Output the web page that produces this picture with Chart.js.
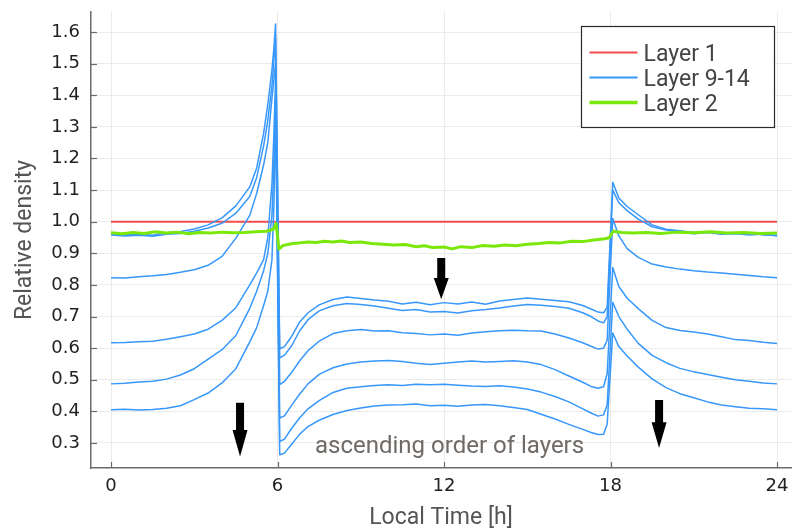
<!DOCTYPE html>
<html><head><meta charset="utf-8">
<script src="https://cdn.jsdelivr.net/npm/chart.js@4.4.0/dist/chart.umd.min.js"></script>
<style>
html,body{margin:0;padding:0;background:#fff;overflow:hidden;width:792px;height:532px}
#wrap{position:absolute;left:0;top:0;width:800px;height:532px}
</style>
</head><body><div id="wrap"><canvas id="c" width="800" height="532"></canvas></div>
<script>
// ---------- data ----------
const xTickValues = [0, 6, 12, 18, 24];
const yTickValues = [0.3,0.4,0.5,0.6,0.7,0.8,0.9,1.0,1.1,1.2,1.3,1.4,1.5,1.6];

const hours = [
 0,0.5,1,1.5,2,2.5,3,3.5,4,4.5,
 5,5.25,5.5,5.65,5.8,5.87,5.93,6.08,6.25,6.5,
 6.8,7.1,7.5,8,8.5,9,9.5,10,10.5,11,
 11.5,12,12.5,13,13.5,14,14.5,15,15.5,16,
 16.5,17,17.3,17.55,17.75,17.88,18.08,18.3,18.6,19,
 19.5,20,20.5,21,21.5,22,22.5,23,23.5,24];

const layer9 = [
 0.962,0.958,0.961,0.957,0.965,0.969,0.977,0.990,1.012,1.050,
 1.110,1.170,1.280,1.370,1.480,1.550,1.625,0.598,0.605,0.636,
 0.683,0.712,0.737,0.754,0.762,0.757,0.752,0.748,0.740,0.745,
 0.737,0.744,0.740,0.746,0.739,0.749,0.754,0.759,0.755,0.751,
 0.747,0.735,0.724,0.714,0.712,0.730,1.125,1.075,1.048,1.022,
 0.990,0.976,0.971,0.966,0.968,0.963,0.962,0.965,0.958,0.957];

const layer10 = [
 0.958,0.955,0.957,0.954,0.960,0.963,0.970,0.980,0.995,1.027,
 1.080,1.140,1.240,1.320,1.430,1.510,1.580,0.569,0.578,0.606,
 0.655,0.690,0.718,0.734,0.741,0.738,0.733,0.726,0.719,0.722,
 0.714,0.716,0.711,0.718,0.722,0.727,0.733,0.738,0.736,0.732,
 0.726,0.712,0.700,0.686,0.680,0.700,1.100,1.060,1.035,1.008,
 0.984,0.974,0.968,0.962,0.966,0.960,0.963,0.958,0.961,0.955];

const layer11 = [
 0.823,0.822,0.826,0.829,0.833,0.840,0.848,0.862,0.890,0.948,
 1.020,1.090,1.180,1.250,1.390,1.450,1.500,0.485,0.495,0.522,
 0.560,0.592,0.622,0.646,0.655,0.659,0.654,0.655,0.649,0.646,
 0.642,0.645,0.641,0.648,0.652,0.655,0.657,0.655,0.654,0.645,
 0.632,0.617,0.606,0.597,0.600,0.625,1.010,0.955,0.915,0.887,
 0.866,0.857,0.850,0.845,0.841,0.838,0.834,0.830,0.826,0.823];

const layer12 = [
 0.617,0.618,0.620,0.622,0.628,0.636,0.645,0.660,0.688,0.728,
 0.800,0.838,0.880,0.950,1.120,1.280,1.450,0.379,0.386,0.418,
 0.455,0.487,0.517,0.538,0.550,0.556,0.559,0.561,0.558,0.552,
 0.548,0.552,0.556,0.559,0.556,0.558,0.560,0.556,0.548,0.532,
 0.512,0.492,0.479,0.473,0.478,0.520,0.855,0.795,0.758,0.725,
 0.688,0.665,0.656,0.651,0.645,0.636,0.627,0.624,0.619,0.615];

const layer13 = [
 0.487,0.489,0.493,0.495,0.502,0.515,0.535,0.565,0.595,0.640,
 0.726,0.780,0.845,0.900,1.020,1.180,1.400,0.305,0.312,0.345,
 0.380,0.408,0.434,0.460,0.473,0.478,0.482,0.484,0.482,0.486,
 0.484,0.486,0.483,0.480,0.479,0.481,0.477,0.471,0.461,0.447,
 0.430,0.408,0.395,0.385,0.389,0.420,0.745,0.700,0.660,0.615,
 0.577,0.554,0.536,0.525,0.517,0.508,0.500,0.495,0.490,0.487];

const layer14 = [
 0.405,0.407,0.404,0.406,0.410,0.418,0.437,0.458,0.490,0.535,
 0.620,0.665,0.735,0.780,0.880,1.050,1.350,0.263,0.268,0.295,
 0.328,0.352,0.372,0.390,0.403,0.411,0.417,0.420,0.421,0.423,
 0.418,0.419,0.416,0.420,0.422,0.418,0.412,0.406,0.391,0.376,
 0.359,0.343,0.333,0.327,0.328,0.360,0.648,0.605,0.575,0.540,
 0.503,0.475,0.456,0.443,0.430,0.420,0.415,0.410,0.408,0.405];

const layer2Hours = [
 0,0.4,0.8,1.2,1.6,2,2.4,2.8,3.2,3.6,
 4,4.4,4.8,5.2,5.6,5.85,5.95,6.05,6.2,6.5,
 6.8,7.1,7.4,7.7,8,8.3,8.6,9,9.4,9.8,
 10.2,10.6,11,11.3,11.6,12,12.3,12.6,13,13.4,
 13.8,14.2,14.6,15,15.4,15.8,16.2,16.6,17,17.4,
 17.8,17.95,18.1,18.4,18.8,19.3,19.8,20.4,21,21.6,
 22.2,22.8,23.4,24];
const layer2Values = [
 0.965,0.962,0.966,0.963,0.968,0.964,0.967,0.962,0.966,0.964,
 0.967,0.965,0.966,0.968,0.970,0.976,0.995,0.913,0.925,0.930,
 0.933,0.936,0.934,0.938,0.936,0.939,0.934,0.936,0.931,0.929,
 0.926,0.928,0.921,0.924,0.918,0.920,0.914,0.921,0.918,0.925,
 0.922,0.926,0.924,0.929,0.931,0.934,0.933,0.938,0.937,0.942,
 0.946,0.949,0.970,0.966,0.964,0.966,0.963,0.967,0.965,0.968,
 0.964,0.966,0.963,0.964];

const layer1Hours = [0, 24];
const layer1Values = [1.0, 1.0];

const legendLabels = ['Layer 1', 'Layer 9-14', 'Layer 2'];

// annotation arrows (hour, top value, neck value, tip value)
const arrowHours = [4.65, 11.9, 19.75];
const arrowTop   = [0.4275, 0.885, 0.436];
const arrowNeck  = [0.341, 0.822, 0.366];
const arrowTip   = [0.257, 0.755, 0.284];
const noteText = 'ascending order of layers';
const noteHour = 12.2;
const noteValue = 0.267;

// ---------- styles ----------
const RED = '#f24d4d', BLUE = '#3797fa', GREEN = '#7ae80a';
const AXIS = '#6b6b6b';

const pts = (xs, ys) => xs.map((x, i) => ({x: x, y: ys[i]}));
const blueSets = [layer9, layer10, layer11, layer12, layer13, layer14].map((ys, i) => ({
  label: i === 0 ? legendLabels[1] : '',
  data: pts(hours, ys),
  borderColor: BLUE, borderWidth: 1.5, pointRadius: 0, tension: 0, order: 1
}));

const datasets = [
  {label: legendLabels[2], data: pts(layer2Hours, layer2Values), borderColor: GREEN, borderWidth: 3, pointRadius: 0, tension: 0, order: 0},
  ...blueSets,
  {label: legendLabels[0], data: pts(layer1Hours, layer1Values), borderColor: RED, borderWidth: 2, pointRadius: 0, tension: 0, order: 2}
];

const decor = {
  id: 'decor',
  afterDatasetsDraw(chart) {
    const ctx = chart.ctx, sx = chart.scales.x, sy = chart.scales.y, a = chart.chartArea;
    ctx.save();
    // inner tick marks
    ctx.strokeStyle = AXIS; ctx.lineWidth = 1.2;
    yTickValues.forEach(v => {
      const y = Math.round(sy.getPixelForValue(v)) + 0.5;
      ctx.beginPath(); ctx.moveTo(a.left, y); ctx.lineTo(a.left + 6, y); ctx.stroke();
    });
    xTickValues.forEach(v => {
      const x = Math.round(sx.getPixelForValue(v)) + 0.5;
      ctx.beginPath(); ctx.moveTo(x, a.bottom); ctx.lineTo(x, a.bottom - 6); ctx.stroke();
    });
    // arrows
    ctx.fillStyle = '#000';
    arrowHours.forEach((h, i) => {
      const cx = sx.getPixelForValue(h);
      const yt = sy.getPixelForValue(arrowTop[i]);
      const yn = sy.getPixelForValue(arrowNeck[i]);
      const yp = sy.getPixelForValue(arrowTip[i]);
      const sw = 4, hw = 7.5;
      ctx.beginPath();
      ctx.moveTo(cx - sw, yt); ctx.lineTo(cx + sw, yt); ctx.lineTo(cx + sw, yn);
      ctx.lineTo(cx + hw, yn); ctx.lineTo(cx, yp); ctx.lineTo(cx - hw, yn);
      ctx.lineTo(cx - sw, yn); ctx.closePath(); ctx.fill();
    });
    // note
    ctx.font = '24px Roboto';
    ctx.fillStyle = '#6f6a66';
    ctx.textAlign = 'center'; ctx.textBaseline = 'alphabetic';
    ctx.fillText(noteText, sx.getPixelForValue(noteHour), sy.getPixelForValue(noteValue));
    ctx.restore();
  },
  afterDraw(chart) {
    const ctx = chart.ctx, a = chart.chartArea;
    ctx.save();
    // axis titles
    ctx.font = '23px Roboto'; ctx.fillStyle = '#555';
    ctx.textAlign = 'center'; ctx.textBaseline = 'alphabetic';
    ctx.fillText('Local Time [h]', (a.left + a.right) / 2 - 3, 524);
    ctx.translate(25, (a.top + a.bottom) / 2);
    ctx.rotate(-Math.PI / 2);
    ctx.textBaseline = 'middle';
    ctx.fillText('Relative density', 0, 0);
    ctx.restore();

    // legend
    ctx.save();
    const bw = 193, bh = 101;
    const bx = a.right - 23 - bw + 0.5, by = a.top + 14 + 0.5;
    ctx.fillStyle = '#fff'; ctx.fillRect(bx, by, bw, bh);
    ctx.strokeStyle = '#2a2a2a'; ctx.lineWidth = 1.2; ctx.strokeRect(bx, by, bw, bh);
    const entries = [
      {label: legendLabels[0], color: RED, w: 2},
      {label: legendLabels[1], color: BLUE, w: 2},
      {label: legendLabels[2], color: GREEN, w: 3.5}
    ];
    ctx.font = '23px Roboto'; ctx.textAlign = 'left'; ctx.textBaseline = 'alphabetic';
    entries.forEach((e, i) => {
      const yc = by + 26 + i * 25;
      ctx.strokeStyle = e.color; ctx.lineWidth = e.w;
      ctx.beginPath(); ctx.moveTo(bx + 8, yc); ctx.lineTo(bx + 56, yc); ctx.stroke();
      ctx.fillStyle = '#444';
      ctx.fillText(e.label, bx + 62, yc + 8.5);
    });
    ctx.restore();
  }
};

new Chart(document.getElementById('c'), {
  type: 'line',
  data: {datasets: datasets},
  options: {
    responsive: false, animation: false, devicePixelRatio: 1,
    layout: {padding: {left: 0, right: 3, top: 12, bottom: 0}},
    plugins: {legend: {display: false}, tooltip: {enabled: false}},
    elements: {line: {borderJoinStyle: 'round'}},
    scales: {
      x: {
        type: 'linear', min: -0.7207, max: 24.72,
        afterBuildTicks: s => { s.ticks = xTickValues.map(v => ({value: v})); },
        afterFit: s => { s.height = 64; s.paddingLeft = 0; s.paddingRight = 0; },
        ticks: {color: '#222', font: {family: 'DejaVu Sans', size: 18}, padding: 8, maxRotation: 0, autoSkip: false,
                callback: v => String(v)},
        grid: {color: '#ebebeb', lineWidth: 1, drawTicks: false},
        border: {display: true, color: AXIS, width: 1.5}
      },
      y: {
        type: 'linear', min: 0.2209, max: 1.6633,
        afterBuildTicks: s => { s.ticks = yTickValues.map(v => ({value: v})); },
        afterFit: s => { s.width = 91; s.paddingTop = 0; s.paddingBottom = 0; },
        ticks: {color: '#222', font: {family: 'DejaVu Sans', size: 18}, padding: 11, autoSkip: false,
                callback: v => Number(v).toFixed(1)},
        grid: {color: '#ebebeb', lineWidth: 1, drawTicks: false},
        border: {display: true, color: AXIS, width: 1.5}
      }
    }
  },
  plugins: [decor]
});
</script></body></html>
